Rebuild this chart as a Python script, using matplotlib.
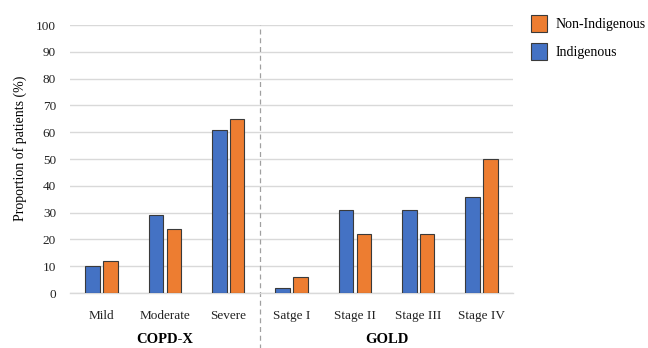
import matplotlib.pyplot as plt
import matplotlib.transforms as mtransforms
import numpy as np

plt.rcParams['font.family'] = ['Liberation Serif', 'DejaVu Serif']

categories = ['Mild', 'Moderate', 'Severe', 'Satge I', 'Stage II', 'Stage III', 'Stage IV']
indigenous = [10, 29, 61, 2, 31, 31, 36]
non_indigenous = [12, 24, 65, 6, 22, 22, 50]
group_names = ['COPD-X', 'GOLD']
group_sizes = [3, 4]

blue = '#4472C4'
orange = '#ED7D31'
edge = '#3a3a3a'

fig = plt.figure(figsize=(6.48, 3.48), dpi=100)
ax = fig.add_axes([0.108, 0.158, 0.684, 0.77])

x = np.arange(len(categories))
w = 0.23
ax.bar(x - 0.14, indigenous, w, color=blue, edgecolor=edge, linewidth=0.8,
       label='Indigenous', zorder=3)
ax.bar(x + 0.14, non_indigenous, w, color=orange, edgecolor=edge, linewidth=0.8,
       label='Non-Indigenous', zorder=3)

ax.set_xlim(-0.5, len(categories) - 0.5)
ax.set_ylim(0, 100)
ax.set_yticks(np.arange(0, 101, 10))
ax.set_xticks(x)
ax.set_xticklabels(categories)
ax.tick_params(axis='both', length=0, labelsize=9.5, colors='#222222')
ax.tick_params(axis='x', pad=12)
ax.tick_params(axis='y', pad=10)
ax.grid(axis='y', color='#D9D9D9', linewidth=1, zorder=0)
for s in ['top', 'right', 'left']:
    ax.spines[s].set_visible(False)
ax.spines['bottom'].set_color('#D9D9D9')
ax.spines['bottom'].set_linewidth(1)
ax.set_ylabel('Proportion of patients (%)', fontsize=10)
ax.yaxis.set_label_coords(-0.098, 0.54)

# separator between the two classification groups
trans = mtransforms.blended_transform_factory(ax.transData, ax.transAxes)
split = group_sizes[0] - 0.5
ax.plot([split, split], [-0.21, 1.0], transform=trans, clip_on=False,
        color='#A0A0A0', linestyle=(0, (4, 3)), linewidth=0.9)

# group titles under the category labels
start = 0
for name, n in zip(group_names, group_sizes):
    centre = start + (n - 1) / 2
    ax.text(centre, -0.175, name, transform=trans, ha='center', va='center',
            fontsize=10.5, fontweight='bold')
    start += n

handles, labels = ax.get_legend_handles_labels()
leg = fig.legend(handles[::-1], labels[::-1], loc='upper left',
                 bbox_to_anchor=(0.819, 0.958), frameon=False, fontsize=10,
                 handlelength=1.2, handleheight=1.5, handletextpad=0.6,
                 labelspacing=0.85, borderpad=0, borderaxespad=0)

fig.savefig('out.png', dpi=100)
